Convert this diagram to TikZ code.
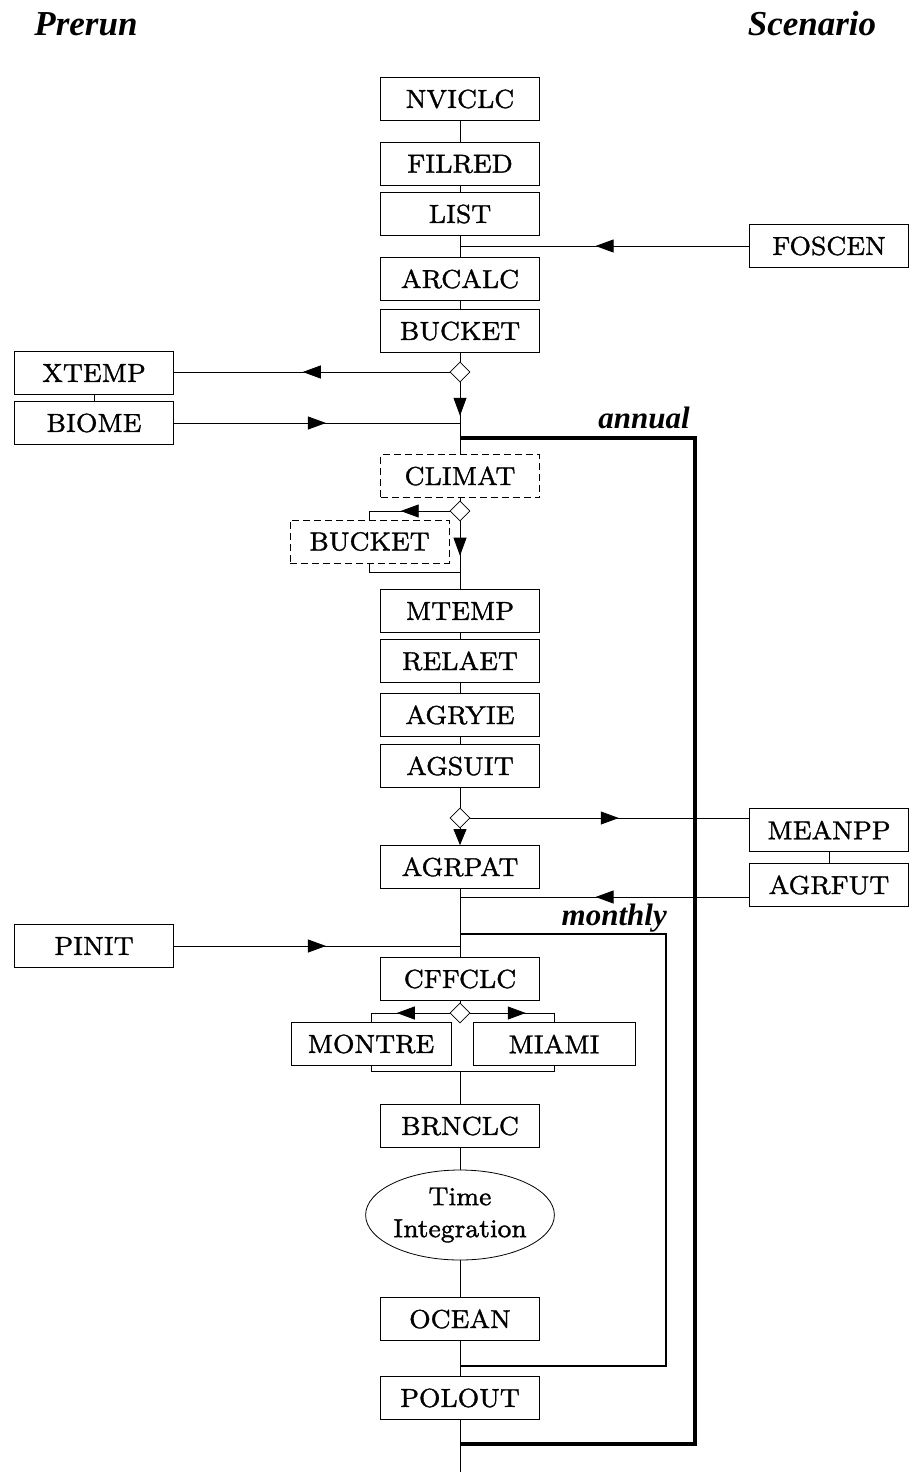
\documentclass[tikz,border=0pt]{standalone}
\usepackage{fontspec}
\newfontfamily\titlefont{Liberation Serif}
\font\boxfnt="[lmroman8-regular.otf]:embolden=1.3" at 26pt
\usetikzlibrary{shapes.geometric, arrows.meta, decorations.markings}

\begin{document}
\begin{tikzpicture}[x=1pt, y=-1pt,
    modbox/.style={draw, line width=0.8pt, minimum width=159pt, minimum height=43pt, inner sep=0pt, font=\boxfnt},
    dashbox/.style={modbox, dash pattern=on 7pt off 4pt},
    branch/.style={draw, diamond, fill=white, line width=0.8pt, minimum size=20pt, inner sep=0pt},
    link/.style={line width=0.8pt},
    midarrow/.style={link, postaction={decorate}, decoration={markings, mark=at position #1 with {\arrow[xshift=9pt]{Triangle[length=18pt, width=13pt]}}}},
    midarrow/.default=0.5,
    heading/.style={font=\titlefont\bfseries\itshape\fontsize{35}{40}\selectfont, anchor=base, inner sep=0pt},
    looplabel/.style={font=\titlefont\bfseries\itshape\fontsize{31}{36}\selectfont, anchor=base east, inner sep=0pt}]
  \useasboundingbox (0,0) rectangle (910,1472);
  % headings
  \node[heading] (prerun) at (86,36) {Prerun};
  \node[heading] (scenario) at (812,36) {Scenario};
  % setup
  \node[modbox] (nviclc) at (460,99) {NVICLC};
  \node[modbox] (filred) at (460,164) {FILRED};
  \node[modbox] (list) at (460,214) {LIST};
  \node[modbox] (foscen) at (829,246) {FOSCEN};
  \node[modbox] (arcalc) at (460,279) {ARCALC};
  \node[modbox] (bucket) at (460,331) {BUCKET};
  \node[branch] (brA) at (460,372) {};
  \node[modbox] (xtemp) at (94,373) {XTEMP};
  \node[modbox] (biome) at (94,423) {BIOME};
  \coordinate (jBiome) at (460,423);
  % annual part
  \coordinate (annTop) at (460,438);
  \coordinate (annCorner) at (695,438);
  \node[dashbox] (climat) at (460,476) {CLIMAT};
  \node[branch] (brB) at (460,511) {};
  \node[dashbox] (bucketB) at (369.5,541.5) {BUCKET};
  \coordinate (jBucket) at (460,572);
  \node[modbox] (mtemp) at (460,611) {MTEMP};
  \node[modbox] (relaet) at (460,661) {RELAET};
  \node[modbox] (agryie) at (460,715) {AGRYIE};
  \node[modbox] (agsuit) at (460,766) {AGSUIT};
  \node[branch] (brC) at (460,818) {};
  \node[modbox] (meanpp) at (829,830) {MEANPP};
  \node[modbox] (agrfut) at (829,885) {AGRFUT};
  \node[modbox] (agrpat) at (460,867) {AGRPAT};
  \coordinate (jAgrfut) at (460,897);
  % monthly part
  \coordinate (monTop) at (460,934);
  \coordinate (monCorner) at (666,934);
  \node[modbox] (pinit) at (94,946) {PINIT};
  \node[modbox] (cffclc) at (460,979) {CFFCLC};
  \node[branch] (brD) at (460,1013) {};
  \node[modbox, minimum width=160pt] (montre) at (371,1044) {MONTRE};
  \node[modbox, minimum width=162pt] (miami) at (554,1044) {MIAMI};
  \coordinate (jSplit) at (460,1071);
  \node[modbox] (brnclc) at (460,1126) {BRNCLC};
  \node[draw, ellipse, link, minimum width=172pt, minimum height=90pt, inner sep=0pt, align=center,
        font={\boxfnt\baselineskip=32pt}] (tint) at (460,1215) {Time\\Integration};
  \node[modbox] (ocean) at (460,1319) {OCEAN};
  \coordinate (monBot) at (460,1366);
  \node[modbox] (polout) at (460,1398) {POLOUT};
  \coordinate (annBot) at (460,1444);
  \coordinate (tail) at (460,1472);

  % main column
  \draw[link] (nviclc) -- (filred) -- (list) -- (arcalc) -- (bucket) -- (brA);
  \draw[midarrow=0.6] (brA) -- (jBiome);
  \draw[link] (jBiome) -- (climat) -- (brB);
  \draw[midarrow] (brB) -- (jBucket);
  \draw[link] (jBucket) -- (mtemp) -- (relaet) -- (agryie) -- (agsuit) -- (brC);
  \draw[link, -{Triangle[length=16pt, width=13pt]}] (brC) -- (agrpat);
  \draw[link] (agrpat) -- (cffclc) -- (brD);
  \draw[link] (jSplit) -- (brnclc) -- (tint) -- (ocean) -- (polout) -- (tail);
  % side inputs and outputs
  \draw[midarrow] (foscen.west) -- (foscen.west -| list.south);
  \draw[midarrow] (brA.west) -- (brA.west -| xtemp.east);
  \draw[link] (xtemp) -- (biome);
  \draw[midarrow] (biome.east) -- (jBiome);
  \draw[midarrow=0.45] (brB.west) -| (bucketB.north);
  \draw[link] (bucketB.south) |- (jBucket);
  \draw[midarrow] (brC.east) -- (brC.east -| meanpp.west);
  \draw[link] (meanpp) -- (agrfut);
  \draw[midarrow] (agrfut.west |- jAgrfut) -- (jAgrfut);
  \draw[midarrow] (pinit.east) -- (pinit.east -| agrpat.south);
  \draw[midarrow] (brD.west) -| (montre.north);
  \draw[midarrow] (brD.east) -| (miami.north);
  \draw[link] (montre.south) |- (jSplit) -| (miami.south);
  % annual loop
  \draw[line width=4pt] (annTop) -- (annCorner) |- (annBot);
  \node[looplabel] (annual) at (690,428) {annual};
  % monthly loop
  \draw[line width=2pt] (monTop) -- (monCorner) |- (monBot);
  \node[looplabel] (monthly) at (667,925) {monthly};
\end{tikzpicture}
\end{document}
